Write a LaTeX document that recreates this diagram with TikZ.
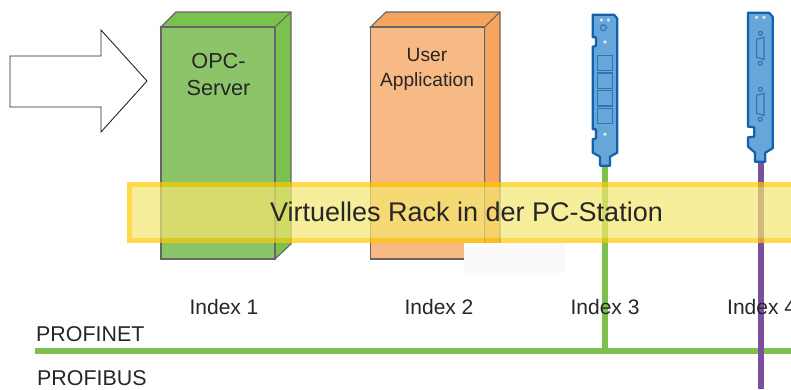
\documentclass[tikz,border=0pt]{standalone}
\usepackage{fontspec}
\setmainfont{Liberation Sans}
\usepackage{tikz}
\usetikzlibrary{positioning}
\definecolor{mgreen}{HTML}{8CC569}
\definecolor{mgreendark}{HTML}{7AC14E}
\definecolor{morange}{HTML}{F7BA84}
\definecolor{morangedark}{HTML}{F8A45F}
\definecolor{medge}{HTML}{666666}
\definecolor{mcard}{HTML}{66A6D9}
\definecolor{mcardline}{HTML}{1560AC}
\definecolor{mhole}{HTML}{DCE9F5}
\definecolor{mbus}{HTML}{7DC04B}
\definecolor{mpurple}{HTML}{7B4E9F}
\definecolor{mband}{HTML}{F4E770}
\definecolor{mbandline}{HTML}{FFC800}
\tikzset{
  edge/.style={draw=medge, line width=1.1pt},
  label/.style={font=\fontsize{21}{24}\selectfont, text=black!85, inner sep=0pt},
  boxtext/.style={font=\fontsize{21.7}{27}\selectfont, text=black!85, align=center, inner sep=0pt},
  card/.style={fill=mcard, draw=mcardline, line width=2.2pt, line join=round},
  hole/.style={fill=mhole, draw=none},
  slot/.style={draw=mcardline!70!mcard, line width=1.1pt},
}
\begin{document}
\begin{tikzpicture}[x=1pt,y=-1pt]
      \useasboundingbox (0,0) rectangle (791,389);

      % arrow
      \draw [black!85, line width=.9pt, fill=white] (10,56)--(101,56)--(101,30)--(147,81)--(101,132)--(101,107)--(10,107)--cycle;

      % green box
      \draw [edge, fill=mgreendark] (161,27)--(176,12)--(291,12)--(291,244)--(275,259)--(275,27)--cycle;
      \draw [edge, fill=mgreen] (161,27) rectangle (275,259);
      \draw [edge] (275,27)--(291,12);
      \node [boxtext] (opc) at (218.5,74.5) {OPC-\\Server};

      % orange box
      \draw [edge, fill=morangedark] (370.5,27)--(386,12)--(500,12)--(500,244)--(484.5,259)--(484.5,27)--cycle;
      \draw [edge, fill=morange] (370.5,27) rectangle (484.5,259);
      \draw [edge] (484.5,27)--(500,12);
      \node [boxtext, font=\fontsize{19.2}{25}\selectfont] (user) at (427,69) {User\\Application};

      % bus lines
      \coordinate (netleft) at (35,351);
      \coordinate (netright) at (791,351);
      \coordinate (netdrop) at (605,351);
      \coordinate (slotone) at (605,164);
      \coordinate (slottwo) at (760.5,160);
      \coordinate (fibdown) at (760.5,389);
      \draw [mbus, line width=6pt] (netleft) -- (netright);
      \draw [mbus, line width=6pt] (slotone) -- (netdrop);
      \draw [mpurple, line width=6pt] (slottwo) -- (fibdown);

      % card one
      \begin{scope}[shift={(570,0)}, x=.3333pt, y=-.3333pt]
        \draw [card] (68,44)--(132,44)--(142,56)--(142,458)--(120,470)--(120,497)--(90,497)--(90,470)--(68,458)--(68,418)--(78,415)--(78,388)--(68,388)--(68,140)--(78,138)--(78,112)--(68,112)--cycle;
        \foreach \xpos/\ypos in {94/60, 115/60, 105/126, 105/403}
          \fill [hole] (\xpos,\ypos) circle (5.5);
        \draw [slot] (100,83) circle (9);
        \foreach \ypos in {166, 219, 272, 325}
          \draw [slot] (82,\ypos) rectangle (128,\ypos+46);
      \end{scope}

      % card two
      \begin{scope}[shift={(570,0)}, x=.3333pt, y=-.3333pt]
        \draw [card] (534,38)--(597,38)--(608,50)--(608,445)--(586,458)--(586,485)--(555,485)--(555,458)--(534,440)--(534,412)--(553,410)--(553,382)--(534,380)--cycle;
        \foreach \xpos in {560, 582}
          \fill [hole] (\xpos,52) circle (5.5);
        \foreach \yoff in {0, 168} {
          \draw [slot] (571,100+\yoff) circle (6);
          \draw [slot] (571,190+\yoff) circle (6);
          \draw [slot] (560,118+\yoff)--(582,112+\yoff)--(582,178+\yoff)--(560,172+\yoff)--cycle;
        }
      \end{scope}

      % faint patch and band
      \fill [black!2] (464,243) rectangle (565,273);
      \fill [mband, opacity=.7] (132,187) rectangle (800,238);
      \draw [mbandline, opacity=.7, line width=5pt] (800,184.5)--(129.5,184.5)--(129.5,240.5)--(800,240.5);
      \node [font=\fontsize{27}{32}\selectfont, text=black!85, inner sep=0pt] (rack) at (466.5,212) {Virtuelles Rack in der PC-Station};

      % labels
      \node [label] (indexone) at (224,307) {Index 1};
      \node [label] (indextwo) at (439,307) {Index 2};
      \node [label] (indexthree) at (605,307) {Index 3};
      \node [label, anchor=west] (indexfour) at (727,307) {Index 4};
      \node [label, font=\fontsize{21.4}{24}\selectfont, anchor=west] (profinet) at (36,334) {PROFINET};
      \node [label, font=\fontsize{21.4}{24}\selectfont, anchor=west] (profibus) at (37,378) {PROFIBUS};
    \end{tikzpicture}
\end{document}
